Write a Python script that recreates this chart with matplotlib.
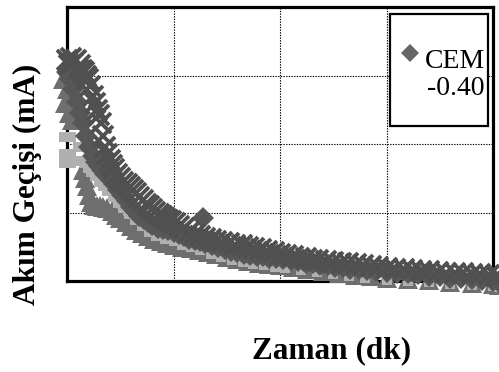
import matplotlib
matplotlib.use("Agg")
import matplotlib.pyplot as plt
from matplotlib.lines import Line2D
from matplotlib.patches import Rectangle

# ---- data (time and current in grid units) ----
cross_x = [0.00, 0.02, 0.04, 0.06, 0.08, 0.10, 0.12, 0.14, 0.16, 0.18, 0.20, 0.22,
           0.24, 0.26, 0.28, 0.30, 0.32, 0.34, 0.36, 0.38, 0.40, 0.42, 0.44, 0.47,
           0.50, 0.53, 0.56, 0.59, 0.62, 0.65, 0.68, 0.71, 0.74, 0.77, 0.80, 0.83,
           0.86, 0.89, 0.92, 0.95, 0.98, 1.01, 1.05, 1.10, 1.15, 1.20, 1.25, 1.30,
           1.35, 1.40, 1.46, 1.52, 1.58, 1.64, 1.70, 1.76, 1.82, 1.88, 1.94, 2.00,
           2.06, 2.12, 2.18, 2.24, 2.30, 2.36, 2.43, 2.50, 2.57, 2.64, 2.71, 2.78,
           2.85, 2.92, 3.00, 3.08, 3.16, 3.24, 3.32, 3.40, 3.48, 3.56, 3.64, 3.72,
           3.80, 3.88, 3.96, 4.03, 4.07]
cross_y = [3.22, 3.15, 3.25, 3.18, 3.22, 3.10, 3.15, 3.08, 3.05, 3.00, 2.95, 2.85,
           2.70, 2.60, 2.50, 2.42, 2.30, 2.12, 1.95, 1.85, 1.76, 1.69, 1.63, 1.56,
           1.50, 1.45, 1.41, 1.37, 1.33, 1.28, 1.23, 1.18, 1.13, 1.09, 1.05, 1.01,
           0.98, 0.95, 0.92, 0.89, 0.87, 0.85, 0.81, 0.77, 0.72, 0.68, 0.65, 0.63,
           0.61, 0.59, 0.57, 0.55, 0.53, 0.52, 0.50, 0.48, 0.46, 0.44, 0.42, 0.40,
           0.38, 0.36, 0.34, 0.33, 0.31, 0.30, 0.29, 0.28, 0.27, 0.26, 0.25, 0.23,
           0.22, 0.20, 0.19, 0.18, 0.17, 0.16, 0.15, 0.14, 0.13, 0.12, 0.12, 0.11,
           0.10, 0.10, 0.09, 0.08, 0.06]

cem_x = [0.00, 0.03, 0.06, 0.09, 0.12, 0.15, 0.18, 0.21, 0.24, 0.27, 0.30, 0.33,
         0.36, 0.40, 0.44, 0.48, 0.52, 0.56, 0.60, 0.64, 0.68, 0.72, 0.76, 0.80,
         0.85, 0.90, 0.95, 1.00, 1.05, 1.10, 1.15, 1.20, 1.25, 1.28, 1.30, 1.36,
         1.42, 1.48, 1.54, 1.60, 1.66, 1.72, 1.78, 1.84, 1.90, 1.96, 2.03, 2.10,
         2.17, 2.24, 2.31, 2.38, 2.45, 2.52, 2.59, 2.66, 2.74, 2.82, 2.90, 3.00,
         3.10, 3.20, 3.30, 3.40, 3.50, 3.60, 3.70, 3.80, 3.90, 4.00, 4.06]
cem_y = [3.05, 2.95, 2.80, 2.62, 2.45, 2.30, 2.12, 1.95, 1.82, 1.74, 1.68, 1.62,
         1.56, 1.49, 1.42, 1.33, 1.26, 1.17, 1.08, 1.02, 0.95, 0.90, 0.86, 0.82,
         0.78, 0.76, 0.74, 0.72, 0.68, 0.65, 0.62, 0.60, 0.59, 0.92, 0.56, 0.52,
         0.49, 0.46, 0.44, 0.42, 0.40, 0.38, 0.37, 0.36, 0.34, 0.33, 0.32, 0.30,
         0.29, 0.27, 0.26, 0.24, 0.23, 0.21, 0.20, 0.18, 0.17, 0.16, 0.15, 0.13,
         0.12, 0.11, 0.10, 0.08, 0.07, 0.05, 0.04, 0.03, 0.02, 0.00, -0.01]

mid_x = [-0.04, -0.02, 0.00, 0.02, 0.04, 0.05, 0.15, 0.17, 0.19, 0.21, 0.23, 0.25,
         0.28, 0.31, 0.34, 0.38, 0.42, 0.46, 0.50, 0.55, 0.60, 0.65, 0.70, 0.76,
         0.82, 0.88, 0.94, 1.00, 1.08, 1.16, 1.24, 1.32, 1.40, 1.50, 1.60, 1.70,
         1.80, 1.90, 2.00, 2.12, 2.25, 2.40, 2.55, 2.70, 2.85, 3.00, 3.20, 3.40,
         3.60, 3.80, 4.00, 4.06]
mid_y = [2.95, 2.60, 2.80, 2.45, 2.70, 2.35, 1.62, 1.50, 1.38, 1.26, 1.16, 1.11,
         1.10, 1.09, 1.08, 1.06, 1.02, 0.97, 0.92, 0.86, 0.80, 0.74, 0.70, 0.66,
         0.62, 0.59, 0.56, 0.53, 0.50, 0.48, 0.45, 0.42, 0.39, 0.35, 0.32, 0.29,
         0.27, 0.25, 0.23, 0.20, 0.17, 0.14, 0.11, 0.09, 0.07, 0.05, 0.03, 0.01,
         -0.01, -0.03, -0.05, -0.06]

light_x = [-0.03, 0.04, -0.03, 0.04, 0.10, 0.10, -0.03, 0.04, 0.17, 0.20, 0.23, 0.26,
           0.30, 0.34, 0.38, 0.43, 0.48, 0.53, 0.58, 0.64, 0.70, 0.77, 0.84, 0.92,
           1.00, 1.08, 1.16, 1.25, 1.35, 1.45, 1.55, 1.65, 1.75, 1.85, 1.95, 2.05,
           2.20, 2.35, 2.50, 2.65, 2.80, 3.00, 3.20, 3.40, 3.60, 3.80, 4.00, 4.06]
light_y = [2.10, 2.10, 1.85, 1.85, 1.95, 1.75, 1.72, 1.72, 1.72, 1.65, 1.59, 1.53,
           1.45, 1.38, 1.31, 1.23, 1.14, 1.06, 0.98, 0.89, 0.80, 0.72, 0.66, 0.62,
           0.58, 0.53, 0.49, 0.45, 0.40, 0.35, 0.31, 0.28, 0.25, 0.23, 0.21, 0.19,
           0.16, 0.13, 0.10, 0.07, 0.05, 0.02, 0.00, -0.02, -0.04, -0.06, -0.08, -0.09]

legend_label = "CEM\n-0.40"
x_label = "Zaman (dk)"
y_label = "Akım Geçişi (mA)"

# ---- figure ----
fig = plt.figure(figsize=(4.99, 3.72), dpi=100)
W, H = 499, 372
ax = fig.add_axes([67 / W, 1 - 281 / H, 426 / W, 274 / H])
ax.set_xlim(0, 4)
ax.set_ylim(0, 4)
ax.set_xticks([1, 2, 3])
ax.set_yticks([1, 2, 3])
ax.tick_params(length=0, labelbottom=False, labelleft=False)
ax.grid(True, color="black", linestyle=(0, (1.2, 1.2)), linewidth=0.8)
ax.set_axisbelow(True)
for s in ax.spines.values():
    s.set_linewidth(2.3)
    s.set_color("black")
    s.set_zorder(1.5)

ax.plot(mid_x, mid_y, linestyle="none", marker="^", markersize=14,
        color="#6e6e6e", markeredgewidth=0, clip_on=False, zorder=2)
ax.plot(light_x, light_y, linestyle="none", marker="s", markersize=7,
        color="#b0b0b0", markeredgewidth=0, clip_on=False, zorder=3)
ax.plot(cem_x, cem_y, linestyle="none", marker="D", markersize=11,
        color="#575757", markeredgewidth=0, clip_on=False, zorder=4)
ax.plot(cross_x, cross_y, linestyle="none", marker="x", markersize=15,
        color="#505050", markeredgewidth=2.8, clip_on=False, zorder=5)

# legend box
fig.add_artist(Rectangle((390 / W, 1 - 126 / H), 98 / W, 112 / H,
                         transform=fig.transFigure, facecolor="white",
                         edgecolor="black", linewidth=1.6, zorder=10))
fig.add_artist(Line2D([410 / W], [1 - 53 / H], transform=fig.transFigure,
                      marker="D", markersize=9.5, color="#666666",
                      markeredgewidth=0, linestyle="none", zorder=11))
fig.text(485 / W, 1 - 95 / H, legend_label, ha="right", va="baseline",
         multialignment="right", fontsize=20, family="Liberation Serif",
         linespacing=1.12, zorder=11)

fig.text(332 / W, 1 - 358 / H, x_label, ha="center", va="baseline",
         fontsize=22.5, fontweight="bold", family="Liberation Serif")
fig.text(27 / W, 1 - 184 / H, y_label, ha="center", va="center", rotation=90,
         fontsize=22.5, fontweight="bold", family="Liberation Serif")

fig.savefig("out.png", dpi=100)
